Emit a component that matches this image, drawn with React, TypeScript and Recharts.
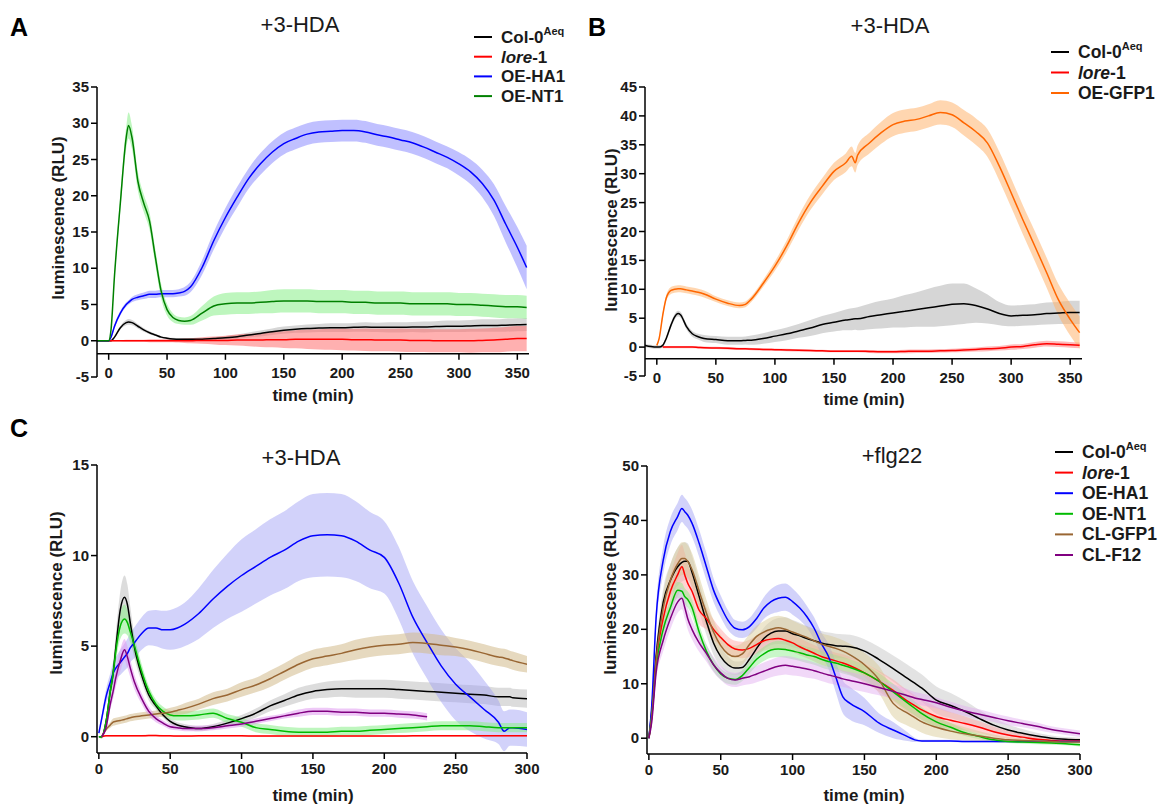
import React from "react";
import { Area, ComposedChart, Line, ReferenceLine, XAxis, YAxis } from "recharts";

const FONT = '"Liberation Sans", Arial, Helvetica, sans-serif';

// ---- panel A: +3-HDA (OE-HA1 / OE-NT1) ----
const timeA = [-10, 0, 2, 5, 10, 15, 17, 20, 25, 30, 35, 40, 45, 50, 55, 60, 65, 70, 80, 90, 100, 110, 120, 130, 140, 150, 160, 170, 180, 190, 200, 210, 220, 230, 240, 250, 260, 270, 280, 290, 300, 310, 320, 330, 340, 350, 358];
const colA = [0, 0, 0, 0.5, 1.8, 2.5, 2.6, 2.5, 2.0, 1.5, 1.1, 0.8, 0.5, 0.35, 0.25, 0.2, 0.2, 0.2, 0.2, 0.3, 0.4, 0.55, 0.8, 1.0, 1.25, 1.45, 1.6, 1.7, 1.75, 1.8, 1.8, 1.85, 1.9, 1.85, 1.85, 1.85, 1.9, 1.9, 1.95, 2.0, 2.0, 2.05, 2.1, 2.1, 2.15, 2.2, 2.25];
const colASd = [0, 0, 0, 0.1, 0.25, 0.35, 0.4, 0.35, 0.3, 0.25, 0.2, 0.15, 0.15, 0.15, 0.15, 0.15, 0.15, 0.15, 0.15, 0.2, 0.25, 0.3, 0.35, 0.4, 0.45, 0.5, 0.5, 0.55, 0.55, 0.6, 0.6, 0.6, 0.65, 0.65, 0.7, 0.7, 0.7, 0.75, 0.75, 0.8, 0.8, 0.8, 0.85, 0.85, 0.9, 0.9, 0.9];
const loreA = [0, 0, 0, 0, 0, 0, 0, 0, 0, 0, 0, 0, 0, 0, 0, 0, 0, 0, 0.05, 0.05, 0.05, 0.1, 0.1, 0.1, 0.15, 0.15, 0.2, 0.2, 0.2, 0.2, 0.2, 0.15, 0.15, 0.1, 0.1, 0.1, 0.05, 0.05, 0, 0, 0, 0, 0.05, 0.1, 0.2, 0.3, 0.3];
const loreASd = [0, 0, 0.1, 0.1, 0.1, 0.15, 0.15, 0.15, 0.15, 0.15, 0.2, 0.2, 0.2, 0.2, 0.2, 0.25, 0.3, 0.35, 0.45, 0.55, 0.65, 0.75, 0.85, 0.95, 1.05, 1.15, 1.25, 1.35, 1.4, 1.45, 1.5, 1.5, 1.55, 1.55, 1.55, 1.6, 1.6, 1.6, 1.6, 1.6, 1.6, 1.65, 1.65, 1.7, 1.7, 1.75, 1.75];
const haA = [0, 0, 0.5, 2.0, 3.8, 5.0, 5.3, 5.7, 6.0, 6.2, 6.4, 6.4, 6.5, 6.5, 6.5, 6.6, 6.8, 7.4, 10.1, 13.8, 17.0, 19.8, 22.4, 24.4, 26.0, 27.2, 27.9, 28.5, 28.8, 28.9, 29.0, 29.0, 28.8, 28.4, 28.1, 27.7, 27.3, 26.7, 26.0, 25.3, 24.4, 23.3, 21.7, 19.4, 16.1, 12.9, 10.1];
const haASd = [0, 0, 0.2, 0.3, 0.3, 0.3, 0.3, 0.35, 0.4, 0.45, 0.5, 0.5, 0.5, 0.5, 0.5, 0.5, 0.6, 0.7, 1.0, 1.2, 1.3, 1.4, 1.4, 1.5, 1.5, 1.5, 1.5, 1.5, 1.5, 1.5, 1.5, 1.5, 1.5, 1.5, 1.5, 1.5, 1.5, 1.5, 1.5, 1.5, 1.6, 1.7, 1.9, 2.2, 2.5, 2.8, 3.0];
const ntA = [0, 0, 1.5, 9, 19, 28, 29.7, 28, 22, 19, 16.5, 11.5, 6.8, 4.3, 3.2, 2.8, 2.7, 2.8, 3.8, 4.8, 5.1, 5.2, 5.2, 5.3, 5.4, 5.5, 5.5, 5.5, 5.4, 5.4, 5.4, 5.3, 5.3, 5.2, 5.2, 5.2, 5.1, 5.1, 5.1, 5.1, 5.0, 5.0, 4.9, 4.8, 4.7, 4.7, 4.6];
const ntASd = [0, 0, 0.2, 0.6, 1.0, 1.5, 1.8, 1.6, 1.3, 1.2, 1.2, 1.1, 1.0, 0.8, 0.6, 0.5, 0.5, 0.6, 1.0, 1.3, 1.5, 1.5, 1.5, 1.5, 1.6, 1.6, 1.6, 1.6, 1.6, 1.6, 1.6, 1.6, 1.6, 1.6, 1.6, 1.6, 1.6, 1.6, 1.6, 1.6, 1.6, 1.6, 1.6, 1.6, 1.6, 1.6, 1.6];

// ---- panel B: +3-HDA (OE-GFP1) ----
const timeB = [-10, -5, 0, 2, 5, 8, 12, 15, 18, 20, 25, 30, 35, 40, 50, 60, 70, 75, 80, 90, 100, 110, 120, 130, 140, 150, 160, 165, 168, 170, 180, 190, 200, 210, 220, 230, 240, 250, 260, 270, 280, 290, 300, 310, 320, 330, 340, 350, 358];
const colB = [0.3, 0.1, 0, 0, 0.3, 1.5, 3.8, 5.2, 5.8, 5.6, 3.6, 2.3, 1.8, 1.5, 1.3, 1.1, 1.1, 1.15, 1.2, 1.5, 1.9, 2.3, 2.8, 3.3, 3.9, 4.3, 4.7, 4.8, 4.9, 4.9, 5.3, 5.6, 5.9, 6.2, 6.5, 6.8, 7.1, 7.4, 7.5, 7.2, 6.6, 5.8, 5.4, 5.5, 5.6, 5.8, 5.9, 6.0, 6.0];
const colBSd = [0.3, 0.3, 0.3, 0.3, 0.3, 0.4, 0.5, 0.5, 0.5, 0.5, 0.5, 0.5, 0.5, 0.6, 0.6, 0.7, 0.7, 0.7, 0.8, 0.9, 1.0, 1.1, 1.2, 1.4, 1.5, 1.6, 1.8, 1.9, 1.9, 2.0, 2.2, 2.4, 2.5, 2.8, 3.0, 3.3, 3.5, 3.6, 3.5, 3.0, 2.5, 2.0, 1.8, 1.8, 1.8, 1.9, 1.9, 2.0, 2.0];
const loreB = [null, null, null, null, 0, 0, 0, 0, 0, 0, 0, 0, -0.05, -0.1, -0.15, -0.2, -0.3, -0.3, -0.35, -0.4, -0.45, -0.5, -0.55, -0.6, -0.65, -0.7, -0.7, -0.7, -0.7, -0.7, -0.75, -0.8, -0.8, -0.75, -0.7, -0.7, -0.65, -0.6, -0.5, -0.4, -0.3, -0.2, 0, 0.1, 0.4, 0.6, 0.5, 0.4, 0.3];
const loreBSd = [0, 0, 0, 0, 0.2, 0.2, 0.2, 0.2, 0.2, 0.2, 0.2, 0.2, 0.2, 0.2, 0.2, 0.2, 0.2, 0.2, 0.2, 0.2, 0.2, 0.2, 0.2, 0.2, 0.2, 0.2, 0.2, 0.2, 0.2, 0.2, 0.25, 0.25, 0.25, 0.3, 0.3, 0.3, 0.3, 0.3, 0.35, 0.35, 0.4, 0.4, 0.45, 0.45, 0.5, 0.5, 0.5, 0.5, 0.5];
const gfpB = [null, null, 0.3, 1.5, 5.5, 8.5, 9.8, 10.0, 10.1, 10.1, 9.9, 9.7, 9.5, 9.2, 8.3, 7.6, 7.2, 7.4, 8.3, 11.0, 14.0, 17.5, 21.5, 25.0, 27.8, 30.4, 31.9, 33.0, 31.9, 33.2, 35.3, 37.1, 38.5, 39.1, 39.4, 40.0, 40.6, 40.2, 38.8, 37.3, 35.3, 31.3, 26.7, 22.0, 17.5, 12.9, 8.2, 4.8, 2.5];
const gfpBSd = [0, 0, 0.2, 0.3, 0.5, 0.5, 0.6, 0.6, 0.6, 0.6, 0.6, 0.6, 0.6, 0.6, 0.5, 0.5, 0.5, 0.5, 0.5, 0.6, 0.8, 1.0, 1.2, 1.3, 1.4, 1.5, 1.6, 1.7, 1.7, 1.7, 1.8, 1.9, 2.0, 2.0, 2.0, 2.0, 2.1, 2.1, 2.2, 2.3, 2.4, 2.5, 2.5, 2.5, 2.6, 2.6, 2.7, 2.8, 2.8];

// ---- panel C left: +3-HDA, all lines ----
const timeC = [0, 2, 5, 8, 10, 12, 15, 18, 20, 22, 25, 30, 35, 40, 45, 50, 55, 60, 70, 80, 90, 100, 110, 120, 130, 140, 150, 160, 170, 180, 190, 200, 210, 220, 230, 240, 250, 260, 270, 280, 284, 288, 290, 300];
const colC = [0, 0, 0.8, 2.5, 3.5, 5.0, 7.0, 7.7, 7.3, 6.3, 4.9, 3.4, 2.3, 1.7, 1.2, 0.85, 0.65, 0.55, 0.45, 0.55, 0.75, 1.0, 1.3, 1.7, 2.0, 2.3, 2.5, 2.6, 2.65, 2.65, 2.65, 2.65, 2.6, 2.55, 2.5, 2.45, 2.4, 2.35, 2.3, 2.2, 2.2, 2.2, 2.15, 2.1];
const colCSd = [0, 0.1, 0.3, 0.5, 0.6, 0.8, 1.0, 1.2, 1.1, 0.9, 0.6, 0.4, 0.3, 0.2, 0.15, 0.15, 0.15, 0.15, 0.15, 0.15, 0.2, 0.2, 0.25, 0.3, 0.35, 0.4, 0.4, 0.45, 0.45, 0.5, 0.5, 0.5, 0.5, 0.5, 0.5, 0.5, 0.5, 0.5, 0.5, 0.5, 0.5, 0.5, 0.5, 0.5];
const loreC = [null, 0, 0.05, 0.05, 0.05, 0.05, 0.05, 0.05, 0.05, 0.05, 0.05, 0.05, 0.06, 0.06, 0.05, 0.05, 0.04, 0.04, 0.05, 0.05, 0.05, 0.05, 0.04, 0.04, 0.04, 0.04, 0.04, 0.04, 0.04, 0.04, 0.04, 0.04, 0.04, 0.05, 0.05, 0.05, 0.05, 0.05, 0.05, 0.05, 0.05, 0.05, 0.05, 0.05];
const loreCSd = [0, 0.05, 0.05, 0.05, 0.05, 0.05, 0.05, 0.05, 0.05, 0.05, 0.05, 0.05, 0.05, 0.05, 0.05, 0.05, 0.05, 0.05, 0.05, 0.05, 0.05, 0.05, 0.05, 0.05, 0.05, 0.05, 0.05, 0.05, 0.05, 0.05, 0.05, 0.05, 0.05, 0.05, 0.05, 0.05, 0.05, 0.05, 0.05, 0.05, 0.05, 0.05, 0.05, 0.05];
const haC = [0.2, 1.0, 2.2, 3.0, 3.5, 3.8, 4.1, 4.4, 4.6, 4.9, 5.2, 5.7, 6.0, 6.0, 5.9, 5.9, 6.0, 6.2, 6.8, 7.6, 8.3, 8.9, 9.4, 9.9, 10.3, 10.8, 11.1, 11.15, 11.1, 10.8, 10.3, 9.9, 8.5, 6.6, 5.2, 3.9, 2.9, 2.2, 1.5, 0.8, 0.3, 0.5, 0.5, 0.4];
const haCSd = [0.1, 0.2, 0.4, 0.5, 0.6, 0.6, 0.7, 0.75, 0.8, 0.8, 0.85, 0.9, 0.95, 1.0, 1.05, 1.1, 1.15, 1.2, 1.4, 1.6, 1.8, 2.0, 2.05, 2.1, 2.15, 2.2, 2.3, 2.3, 2.3, 2.2, 2.1, 2.0, 2.0, 2.0, 2.0, 2.0, 2.0, 1.9, 1.6, 1.2, 1.1, 1.0, 1.0, 0.95];
const ntC = [0, 0, 0.8, 2.5, 3.5, 4.8, 6.1, 6.5, 6.3, 5.8, 5.0, 3.6, 2.5, 1.8, 1.4, 1.2, 1.15, 1.15, 1.2, 1.3, 1.0, 0.8, 0.5, 0.4, 0.3, 0.25, 0.25, 0.25, 0.3, 0.3, 0.35, 0.4, 0.45, 0.5, 0.55, 0.6, 0.6, 0.6, 0.55, 0.5, 0.5, 0.5, 0.5, 0.5];
const ntCSd = [0, 0.1, 0.2, 0.4, 0.5, 0.6, 0.7, 0.8, 0.7, 0.6, 0.5, 0.4, 0.3, 0.25, 0.25, 0.25, 0.25, 0.25, 0.25, 0.25, 0.25, 0.25, 0.25, 0.25, 0.25, 0.25, 0.25, 0.25, 0.25, 0.25, 0.25, 0.25, 0.25, 0.25, 0.25, 0.25, 0.25, 0.25, 0.25, 0.25, 0.25, 0.25, 0.25, 0.25];
const clGfpC = [null, 0, 0.4, 0.65, 0.8, 0.85, 0.9, 0.95, 1.0, 1.05, 1.1, 1.15, 1.2, 1.25, 1.3, 1.35, 1.45, 1.55, 1.8, 2.1, 2.3, 2.6, 2.85, 3.2, 3.6, 4.0, 4.3, 4.45, 4.6, 4.8, 4.95, 5.05, 5.1, 5.2, 5.15, 5.05, 4.95, 4.8, 4.6, 4.4, 4.35, 4.25, 4.2, 4.0];
const clGfpCSd = [0, 0.05, 0.1, 0.15, 0.2, 0.2, 0.2, 0.2, 0.2, 0.2, 0.2, 0.2, 0.2, 0.2, 0.2, 0.25, 0.25, 0.3, 0.3, 0.35, 0.35, 0.4, 0.4, 0.45, 0.45, 0.5, 0.5, 0.5, 0.5, 0.55, 0.55, 0.55, 0.55, 0.55, 0.55, 0.55, 0.5, 0.5, 0.5, 0.5, 0.5, 0.5, 0.5, 0.45];
const clF12C = [null, 0, 0.5, 1.8, 2.5, 3.3, 4.2, 4.8, 4.4, 3.8, 3.0, 2.1, 1.4, 1.0, 0.75, 0.55, 0.5, 0.45, 0.45, 0.5, 0.6, 0.7, 0.85, 1.0, 1.15, 1.3, 1.4, 1.4, 1.35, 1.35, 1.3, 1.3, 1.25, 1.2, 1.1, null, null, null, null, null, null, null, null, null];
const clF12CSd = [0, 0.05, 0.2, 0.3, 0.4, 0.5, 0.6, 0.6, 0.6, 0.5, 0.4, 0.3, 0.25, 0.2, 0.15, 0.15, 0.15, 0.15, 0.15, 0.15, 0.15, 0.15, 0.15, 0.15, 0.15, 0.2, 0.2, 0.2, 0.2, 0.2, 0.2, 0.2, 0.2, 0.2, 0.2, 0, 0, 0, 0, 0, 0, 0, 0, 0];

// ---- panel C right: +flg22 ----
const timeD = [0, 2, 5, 10, 15, 20, 23, 25, 27, 30, 35, 40, 45, 50, 55, 60, 65, 70, 75, 80, 85, 90, 95, 100, 105, 110, 115, 120, 125, 130, 135, 140, 150, 160, 170, 180, 185, 190, 200, 210, 220, 230, 240, 250, 260, 270, 280, 290, 300];
const colD = [0, 5, 15, 25, 29, 31.5, 32.3, 32.5, 32.5, 30.5, 26, 21.5, 17.5, 15, 13.5, 12.9, 13.0, 14.5, 16.5, 18.3, 19.3, 19.7, 19.7, 19.2, 18.8, 18.3, 17.9, 17.5, 17.2, 17.0, 16.9, 16.8, 16.0, 14.5, 12.8, 11.0, 10.1, 9.2, 7.0, 6.0, 4.9, 3.6, 2.4, 1.5, 0.9, 0.4, 0.0, -0.2, -0.3];
const colDSd = [0, 0.8, 1.5, 2.5, 3.0, 3.5, 3.5, 3.5, 3.3, 3.0, 2.8, 2.5, 2.2, 1.8, 1.5, 1.2, 1.2, 1.5, 1.8, 2.0, 2.2, 2.4, 2.5, 2.5, 2.4, 2.3, 2.2, 2.2, 2.2, 2.2, 2.2, 2.2, 2.2, 2.3, 2.4, 2.5, 2.5, 2.5, 2.5, 2.3, 2.0, 1.6, 1.3, 1.0, 0.8, 0.6, 0.5, 0.4, 0.4];
const loreD = [0, 4, 14, 22, 27, 30, 31.5, 30, 28.5, 27, 23.5, 22, 20, 18.5, 17.2, 16.4, 16.2, 16.5, 17.2, 17.9, 18.2, 18.3, 18.0, 17.5, 16.8, 16.2, 15.6, 15.0, 14.6, 14.2, 13.8, 13.3, 12.0, 10.5, 8.8, 6.8, 6.0, 5.2, 4.0, 3.3, 2.7, 2.0, 1.2, 0.6, 0.2, -0.2, -0.4, -0.5, -0.5];
const loreDSd = [0, 1, 2, 2.5, 3, 4, 4, 4, 3.5, 3, 2.5, 2, 1.8, 1.6, 1.5, 1.5, 1.5, 1.6, 1.7, 1.8, 1.8, 1.8, 1.8, 1.7, 1.6, 1.5, 1.5, 1.5, 1.5, 1.5, 1.6, 1.6, 1.8, 1.9, 2.0, 2.0, 1.9, 1.8, 1.8, 1.5, 1.3, 1.1, 0.9, 0.8, 0.6, 0.5, 0.4, 0.4, 0.4];
const haD = [0, 6, 22, 32.7, 38, 40.7, 42.2, 41.6, 41, 39.5, 35.8, 31.5, 27.2, 24.2, 21.7, 20.2, 19.9, 20.5, 22, 23.9, 25.1, 25.7, 25.9, 25.1, 23.9, 22.3, 20.2, 17.4, 15, 11.3, 7.6, 6.4, 4.9, 2.8, 1.5, 0.3, -0.3, -0.5, -0.5, -0.5, -0.6, -0.6, -0.6, -0.6, -0.6, -0.6, -0.6, -0.6, -0.6];
const haDSd = [0, 1, 2, 2.5, 2.5, 2.5, 2.5, 2.5, 2.5, 2.5, 2.5, 2.5, 2.2, 2, 1.8, 1.5, 1.5, 1.6, 1.8, 2.0, 2.3, 2.5, 2.5, 2.4, 2.2, 2.0, 2.0, 2.0, 2.3, 2.8, 3.0, 3.0, 2.5, 1.8, 1.5, 0.8, 0.4, 0.2, 0.2, 0.2, 0.2, 0.2, 0.2, 0.2, 0.2, 0.2, 0.2, 0.2, 0.2];
const ntD = [0, 4, 13, 20, 24, 27.2, 27, 26, 25.5, 24, 19.5, 16, 13.5, 11.8, 11, 10.8, 11.5, 13, 14.5, 15.5, 16.2, 16.4, 16.3, 16.0, 15.7, 15.3, 15.0, 14.5, 14.1, 13.8, 13.4, 13.0, 12.0, 10.5, 8.5, 6.5, 5.5, 4.5, 3.0, 2.0, 1.0, 0.3, -0.3, -0.6, -0.7, -0.8, -0.9, -1.0, -1.2];
const ntDSd = [0, 0.8, 1.2, 1.5, 1.5, 1.5, 1.5, 1.5, 1.5, 1.5, 1.4, 1.3, 1.2, 1.0, 1.0, 1.0, 1.0, 1.1, 1.2, 1.3, 1.4, 1.5, 1.5, 1.5, 1.5, 1.5, 1.5, 1.5, 1.5, 1.5, 1.5, 1.5, 1.5, 1.5, 1.5, 1.4, 1.3, 1.2, 1.0, 0.8, 0.6, 0.5, 0.4, 0.3, 0.3, 0.3, 0.3, 0.3, 0.3];
const clGfpD = [0, 4, 14, 24, 29, 32, 33, 33, 32.5, 31, 27, 23, 19.5, 17, 15.5, 15, 15.5, 17.2, 18.7, 19.5, 20, 20.3, 20, 19.5, 19, 18.5, 17.9, 17.3, 16.9, 16.5, 16, 15.3, 13.5, 10.8, 6.4, 4.6, 3.8, 3.0, 2.0, 1.3, 0.8, 0.4, 0, -0.3, -0.4, -0.5, -0.6, -0.7, -0.7];
const clGfpDSd = [0, 1, 2, 2.5, 3, 3, 3, 3, 3, 3, 2.8, 2.5, 2.2, 2, 2, 2, 2, 2, 2, 2, 2.2, 2.2, 2.2, 2.1, 2, 2, 2, 2, 2, 2, 2, 2, 2.2, 2.5, 2.5, 2.3, 2.1, 2.0, 1.8, 1.5, 1.2, 0.9, 0.7, 0.5, 0.4, 0.4, 0.4, 0.3, 0.3];
const clF12D = [0, 3, 12, 18, 22, 25, 25.7, 24, 22, 20, 17.5, 15.6, 13.5, 12, 11, 10.7, 11, 11.3, 11.8, 12.3, 12.8, 13.2, 13.4, 13.2, 13.0, 12.7, 12.4, 12.0, 11.6, 11.3, 10.9, 10.6, 10.0, 9.3, 8.6, 7.8, 7.4, 7.1, 6.5, 5.7, 5.0, 4.4, 3.8, 3.2, 2.7, 2.2, 1.6, 1.2, 0.8];
const clF12DSd = [0, 0.8, 1.5, 2, 2, 2, 2, 2, 2, 1.8, 1.6, 1.5, 1.4, 1.3, 1.3, 1.3, 1.3, 1.4, 1.5, 1.6, 1.6, 1.7, 1.7, 1.7, 1.6, 1.6, 1.5, 1.5, 1.5, 1.5, 1.5, 1.5, 1.5, 1.4, 1.3, 1.2, 1.1, 1.1, 1.0, 1.0, 0.9, 0.9, 0.8, 0.8, 0.7, 0.7, 0.6, 0.6, 0.6];

const ticksX360 = [0, 50, 100, 150, 200, 250, 300, 350];
const ticksX300 = [0, 50, 100, 150, 200, 250, 300];
const ticksYA = [-5, 0, 5, 10, 15, 20, 25, 30, 35];
const ticksYB = [-5, 0, 5, 10, 15, 20, 25, 30, 35, 40, 45];
const ticksYC = [0, 5, 10, 15];
const ticksYD = [0, 10, 20, 30, 40, 50];

type Series = {
  key: string;
  mean: (number | null)[];
  sd: number[];
  color: string;
  band: string;
  bandOpacity?: number;
};

const seriesA: Series[] = [
  { key: "col", mean: colA, sd: colASd, color: "#000000", band: "#b4b4b4" },
  { key: "lore", mean: loreA, sd: loreASd, color: "#ff0000", band: "#ff6f6f" },
  { key: "ha", mean: haA, sd: haASd, color: "#0000ff", band: "#8c8cff" },
  { key: "nt", mean: ntA, sd: ntASd, color: "#008000", band: "#88ee88" },
];
const seriesB: Series[] = [
  { key: "col", mean: colB, sd: colBSd, color: "#000000", band: "#b4b4b4" },
  { key: "lore", mean: loreB, sd: loreBSd, color: "#ff0000", band: "#ff7f7f" },
  { key: "gfp", mean: gfpB, sd: gfpBSd, color: "#ff6600", band: "#ffb470" },
];
const seriesC: Series[] = [
  { key: "col", mean: colC, sd: colCSd, color: "#000000", band: "#c0c0c0" },
  { key: "lore", mean: loreC, sd: loreCSd, color: "#ff0000", band: "#ff9090" },
  { key: "ha", mean: haC, sd: haCSd, color: "#0000ff", band: "#9c9cf4", bandOpacity: 0.45 },
  { key: "nt", mean: ntC, sd: ntCSd, color: "#00bb00", band: "#88ee88" },
  { key: "clg", mean: clGfpC, sd: clGfpCSd, color: "#996633", band: "#d2b98a" },
  { key: "clf", mean: clF12C, sd: clF12CSd, color: "#800080", band: "#e09af0" },
];
const seriesD: Series[] = [
  { key: "col", mean: colD, sd: colDSd, color: "#000000", band: "#c0c0c0", bandOpacity: 0.45 },
  { key: "lore", mean: loreD, sd: loreDSd, color: "#ff0000", band: "#ffa0a0", bandOpacity: 0.45 },
  { key: "ha", mean: haD, sd: haDSd, color: "#0000ff", band: "#9c9cf4", bandOpacity: 0.45 },
  { key: "nt", mean: ntD, sd: ntDSd, color: "#00bb00", band: "#88ee88", bandOpacity: 0.45 },
  { key: "clg", mean: clGfpD, sd: clGfpDSd, color: "#996633", band: "#d8c890", bandOpacity: 0.45 },
  { key: "clf", mean: clF12D, sd: clF12DSd, color: "#800080", band: "#e0a8f0", bandOpacity: 0.45 },
];

function toRows(times: number[], series: Series[]) {
  return times.map((t, i) => {
    const row: Record<string, unknown> = { t };
    series.forEach((s) => {
      const m = s.mean[i];
      row[s.key] = m;
      row[s.key + "Band"] = m == null ? null : [m - s.sd[i], m + s.sd[i]];
    });
    return row;
  });
}

type Box = { left: number; top: number; width: number; height: number };
type Plot = { x: number; y: number; w: number; h: number };

type PanelProps = {
  times: number[];
  series: Series[];
  box: Box;
  plot: Plot;
  xDomain: [number, number];
  xTicks: number[];
  yDomain: [number, number];
  yTicks: number[];
  axisAt?: number;
};

const tickStyle = { fontSize: 15, fontWeight: 700, fill: "#1a1a1a", fontFamily: FONT };

const yTick = (p: any) => (
  <text x={p.x} y={p.y} dy={5} textAnchor="end" {...tickStyle}>
    {p.payload.value}
  </text>
);

const xTick = (p: any) => (
  <text x={p.x} y={p.y} dy={12} textAnchor="middle" {...tickStyle}>
    {p.payload.value}
  </text>
);

function Panel({ times, series, box, plot, xDomain, xTicks, yDomain, yTicks, axisAt }: PanelProps) {
  const data = toRows(times, series);
  const offset = axisAt !== undefined;
  // pixel row of the floating x axis (GraphPad style, drawn above the lowest y tick)
  const axisPix = offset
    ? plot.y - box.top + ((yDomain[1] - (axisAt as number)) / (yDomain[1] - yDomain[0])) * plot.h
    : 0;

  const offsetTick = (p: any) => (
    <g>
      <line x1={p.x} x2={p.x} y1={axisPix} y2={axisPix + 6} stroke="#000" strokeWidth={1.5} />
      <text x={p.x} y={axisPix + 24} textAnchor="middle" {...tickStyle}>
        {p.payload.value}
      </text>
    </g>
  );

  return (
    <div style={{ position: "absolute", left: box.left, top: box.top }}>
      <ComposedChart
        width={box.width}
        height={box.height}
        data={data}
        margin={{
          top: plot.y - box.top,
          right: box.left + box.width - plot.x - plot.w,
          bottom: 0,
          left: 0,
        }}
      >
        <XAxis
          type="number"
          dataKey="t"
          domain={xDomain}
          ticks={xTicks}
          interval={0}
          allowDataOverflow
          height={box.top + box.height - plot.y - plot.h}
          axisLine={offset ? false : { stroke: "#000", strokeWidth: 1.5 }}
          tickLine={offset ? false : { stroke: "#000", strokeWidth: 1.5 }}
          tickSize={6}
          tickMargin={3}
          tick={offset ? offsetTick : xTick}
        />
        <YAxis
          type="number"
          domain={yDomain}
          ticks={yTicks}
          interval={0}
          allowDataOverflow
          width={plot.x - box.left}
          axisLine={{ stroke: "#000", strokeWidth: 1.5 }}
          tickLine={{ stroke: "#000", strokeWidth: 1.5 }}
          tickSize={6}
          tickMargin={2}
          tick={yTick}
        />
        {offset && <ReferenceLine y={axisAt} stroke="#000" strokeWidth={1.5} />}
        {series.map((s) => (
          <Area
            key={s.key + "Band"}
            dataKey={s.key + "Band"}
            type="monotone"
            stroke="none"
            fill={s.band}
            fillOpacity={s.bandOpacity ?? 0.55}
            activeDot={false}
            isAnimationActive={false}
          />
        ))}
        {series.map((s) => (
          <Line
            key={s.key}
            dataKey={s.key}
            type="monotone"
            stroke={s.color}
            strokeWidth={1.5}
            dot={false}
            activeDot={false}
            isAnimationActive={false}
          />
        ))}
      </ComposedChart>
    </div>
  );
}

type LegendItem = { name: string; color: string };

const legendA: LegendItem[] = [
  { name: "Col-0", color: "#000000" },
  { name: "lore-1", color: "#ff0000" },
  { name: "OE-HA1", color: "#0000ff" },
  { name: "OE-NT1", color: "#008000" },
];
const legendB: LegendItem[] = [
  { name: "Col-0", color: "#000000" },
  { name: "lore-1", color: "#ff0000" },
  { name: "OE-GFP1", color: "#ff6600" },
];
const legendD: LegendItem[] = [
  { name: "Col-0", color: "#000000" },
  { name: "lore-1", color: "#ff0000" },
  { name: "OE-HA1", color: "#0000ff" },
  { name: "OE-NT1", color: "#00bb00" },
  { name: "CL-GFP1", color: "#996633" },
  { name: "CL-F12", color: "#800080" },
];

function LegendName({ name }: { name: string }) {
  if (name === "Col-0")
    return (
      <>
        Col-0
        <tspan dy={-8} fontSize={11}>
          Aeq
        </tspan>
      </>
    );
  if (name === "lore-1")
    return (
      <>
        <tspan fontStyle="italic">lore</tspan>-1
      </>
    );
  return <>{name}</>;
}

function Legend({ items, x, y, step, size }: { items: LegendItem[]; x: number; y: number; step: number; size: number }) {
  return (
    <g>
      {items.map((it, i) => (
        <g key={it.name}>
          <line x1={x} x2={x + 18} y1={y + i * step} y2={y + i * step} stroke={it.color} strokeWidth={2} />
          <text x={x + 27} y={y + i * step + 6} fontSize={size} fontWeight={700} fill="#1a1a1a" fontFamily={FONT}>
            <LegendName name={it.name} />
          </text>
        </g>
      ))}
    </g>
  );
}

function Overlay() {
  const title = { fontSize: 22, fill: "#1a1a1a", fontFamily: FONT, textAnchor: "middle" as const };
  const axis = { fontSize: 17, fontWeight: 700, fill: "#1a1a1a", fontFamily: FONT, textAnchor: "middle" as const };
  const letter = { fontSize: 25, fontWeight: 700, fill: "#000", fontFamily: FONT };
  const yl = "luminescence (RLU)";
  return (
    <svg width={1167} height={805} style={{ position: "absolute", left: 0, top: 0, pointerEvents: "none" }}>
      <text x={10} y={36} {...letter}>A</text>
      <text x={588} y={36} {...letter}>B</text>
      <text x={10} y={437} {...letter}>C</text>

      <text x={300} y={32} {...title}>+3-HDA</text>
      <text x={890} y={33} {...title}>+3-HDA</text>
      <text x={301} y={465} {...title}>+3-HDA</text>
      <text x={892} y={463} {...title}>+flg22</text>

      <text transform="translate(64,218) rotate(-90)" {...axis}>{yl}</text>
      <text transform="translate(617,230) rotate(-90)" {...axis}>{yl}</text>
      <text transform="translate(62,593) rotate(-90)" {...axis}>{yl}</text>
      <text transform="translate(616,593) rotate(-90)" {...axis}>{yl}</text>

      <text x={313} y={401} {...axis}>time (min)</text>
      <text x={864} y={405} {...axis}>time (min)</text>
      <text x={313} y={801} {...axis}>time (min)</text>
      <text x={864} y={801} {...axis}>time (min)</text>

      <Legend items={legendA} x={474} y={37} step={19.7} size={17} />
      <Legend items={legendB} x={1051} y={52} step={20.5} size={17.5} />
      <Legend items={legendD} x={1055} y={452} step={20.6} size={17.5} />
    </svg>
  );
}

export default function App() {
  return (
    <div style={{ position: "absolute", left: 0, top: 0, width: 1167, height: 805, background: "#fff", fontFamily: FONT }}>
      <Panel
        times={timeA}
        series={seriesA}
        box={{ left: 0, top: 0, width: 560, height: 410 }}
        plot={{ x: 97, y: 87, w: 432, h: 290 }}
        xDomain={[-10, 360]}
        xTicks={ticksX360}
        yDomain={[-5, 35]}
        yTicks={ticksYA}
        axisAt={-1.8}
      />
      <Panel
        times={timeB}
        series={seriesB}
        box={{ left: 570, top: 0, width: 550, height: 410 }}
        plot={{ x: 645, y: 87, w: 437, h: 289 }}
        xDomain={[-10, 360]}
        xTicks={ticksX360}
        yDomain={[-5, 45]}
        yTicks={ticksYB}
        axisAt={-2}
      />
      <Panel
        times={timeC}
        series={seriesC}
        box={{ left: 0, top: 410, width: 560, height: 395 }}
        plot={{ x: 97, y: 465, w: 430, h: 288 }}
        xDomain={[-1.3, 300]}
        xTicks={ticksX300}
        yDomain={[-0.9, 15]}
        yTicks={ticksYC}
      />
      <Panel
        times={timeD}
        series={seriesD}
        box={{ left: 570, top: 410, width: 550, height: 395 }}
        plot={{ x: 647, y: 466, w: 433, h: 288 }}
        xDomain={[-1.3, 300]}
        xTicks={ticksX300}
        yDomain={[-2.9, 50]}
        yTicks={ticksYD}
      />
      <Overlay />
    </div>
  );
}
